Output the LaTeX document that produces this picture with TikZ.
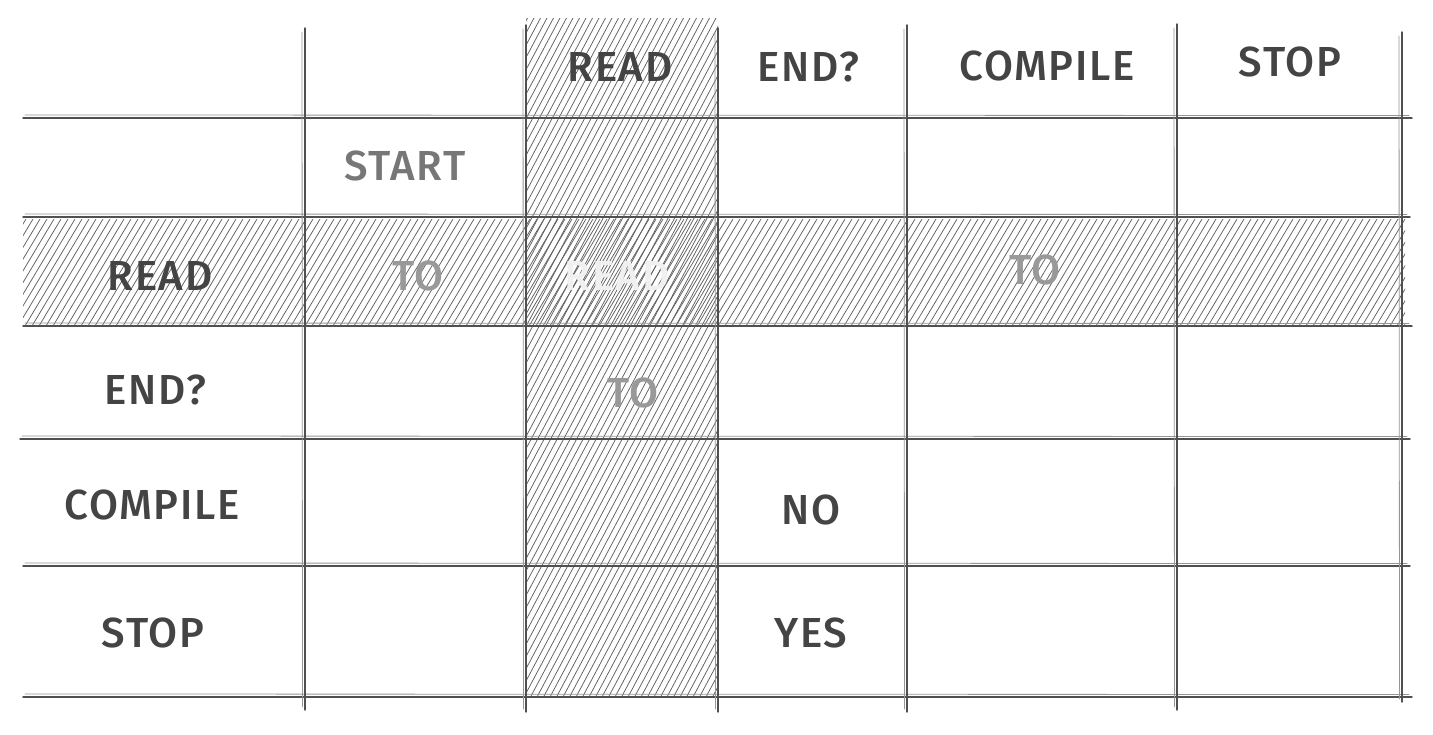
\documentclass[tikz,border=0pt]{standalone}
\usepackage{fontspec}
\IfFontExistsTF{Fira Sans Medium}{\setmainfont{Fira Sans Medium}[LetterSpace=4]}{\setmainfont{Fira Sans}[LetterSpace=4]}
\definecolor{ink}{HTML}{444444}
\definecolor{gridc}{HTML}{505050}
\definecolor{midgray}{HTML}{777777}
\definecolor{lightgray}{HTML}{999999}
\definecolor{paleink}{HTML}{F0F0F0}
\tikzset{
  gridline/.style={draw=gridc, line width=1.4pt, line cap=round},
  gridghost/.style={draw=gridc!60, line width=0.8pt, line cap=round},
  hatchline/.style={draw=gridc!90, line width=0.75pt},
  lab/.style={font=\fontsize{42}{42}\selectfont, text=ink, inner sep=0pt, anchor=center},
  labmid/.style={lab, text=midgray},
  lablight/.style={lab, text=lightgray},
  labpale/.style={lab, text=paleink},
}
\begin{document}
\begin{tikzpicture}[x=1pt,y=-1pt]
\useasboundingbox (0,0) rectangle (1433,734);
\fill[white] (0,0) rectangle (1433,734);
% hatched column
\begin{scope}
  \clip (526,18) rectangle (718,697);
  \foreach \x in {160,166.5,...,725}{
    \draw[hatchline] (\x,697) -- ++(361,-679);
  }
\end{scope}
% hatched row
\begin{scope}
  \clip (23,219) rectangle (1405,326);
  \foreach \x in {-45,-38,...,1410}{
    \draw[hatchline] (\x,326) -- ++(64,-107);
  }
\end{scope}
% horizontal grid lines
\foreach \y/\xa/\xb in {118/23/1412, 217/23/1410, 326/23/1412, 439/20/1410, 566/23/1410, 697/23/1412}{
  \draw[gridline] (\xa,\y) -- (\xb,\y);
  \draw[gridghost] (\xa+2,\y-3) -- (\xb-3,\y-2.5);
}
% vertical grid lines
\foreach \x/\ya/\yb in {305/28/710, 526/25/712, 718/28/712, 907/25/712, 1177/24/710, 1402/32/702}{
  \draw[gridline] (\x,\ya) -- (\x,\yb);
  \draw[gridghost] (\x-3,\ya+4) -- (\x-2.5,\yb-3);
}
% header row
\node[lab] (hread) at (620,67) {READ};
\node[lab] (hend) at (808,67) {END?};
\node[lab] (hcomp) at (1047,66) {COMPILE};
\node[lab] (hstop) at (1290,62) {STOP};
% row labels
\node[lab] (rread) at (160,276) {READ};
\node[lab] (rend) at (155,390) {END?};
\node[lab] (rcomp) at (152,505) {COMPILE};
\node[lab] (rstop) at (153,633) {STOP};
% cell contents
\node[labmid] (start) at (405,166) {START};
\node[lablight] (to1) at (418,276) {TO};
\node[labpale] (readread) at (617,276) {READ};
\node[lablight] (to2) at (1035,270) {TO};
\node[lablight] (to3) at (633,393) {TO};
\node[lab] (no) at (811,510) {NO};
\node[lab] (yes) at (811,633) {YES};
\end{tikzpicture}
\end{document}
